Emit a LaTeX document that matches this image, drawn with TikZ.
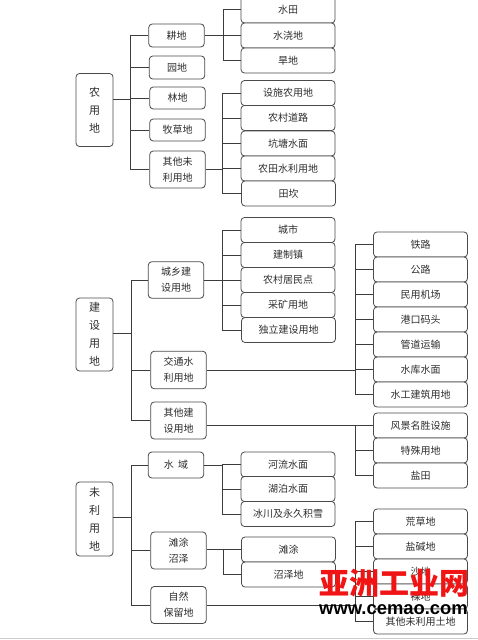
\documentclass[tikz,border=0pt]{standalone}
\usepackage{fontspec}
\setmainfont{Liberation Sans}
\newfontfamily\cjk{Noto Sans CJK SC}
\usetikzlibrary{positioning}
\definecolor{borde}{HTML}{4A4A4A}
\definecolor{linea}{HTML}{3C3C3C}
\definecolor{tinta}{HTML}{2E2E2E}
\definecolor{rojo}{HTML}{F01414}
\tikzset{
  rootbox/.style={draw=borde,thick,rounded corners=3.5pt,fill=white,align=center,
    minimum width=37pt,text=tinta,font=\cjk\fontsize{11}{18}\selectfont,inner sep=0pt},
  midbox/.style={draw=borde,thick,rounded corners=3.5pt,fill=white,align=center,
    minimum width=55.5pt,text=tinta,font=\cjk\fontsize{10}{16}\selectfont,inner sep=0pt},
  leafbox/.style={draw=borde,thick,rounded corners=3.5pt,fill=white,align=center,
    minimum width=94pt,minimum height=25pt,text=tinta,font=\cjk\fontsize{10}{12}\selectfont,inner sep=0pt},
  link/.style={linea,thick},
  marca/.style={inner sep=0pt,text=rojo,font=\cjk\bfseries\fontsize{30}{30}\selectfont},
  marcaweb/.style={inner sep=0pt,text=black,font=\bfseries\fontsize{18.4}{20}\selectfont}
}
\begin{document}
\begin{tikzpicture}[x=1pt,y=-1pt]
\clip (0,0) rectangle (478,640);
\fill[white] (0,0) rectangle (478,640);
% trunks
\coordinate (t1) at (130,99);
\coordinate (t2) at (223,35.5);
\coordinate (t3) at (222,169.5);
\coordinate (t4) at (131.5,333.5);
\coordinate (t5) at (222.5,280);
\coordinate (t6) at (355,370);
\coordinate (t7) at (355,425);
\coordinate (t8) at (131.5,517.5);
\coordinate (t9) at (222.5,465);
\coordinate (t10) at (223,549.5);
\coordinate (t11) at (355,605);
% first group
\node[rootbox,minimum height=73pt] (nong) at (94.5,110) {农\\用\\地};
\node[midbox,minimum height=23pt] (gengdi) at (176.5,35.5) {耕地};
\node[midbox,minimum height=23pt] (yuandi) at (177,67.5) {园地};
\node[midbox,minimum height=22pt] (lindi) at (177.5,98) {林地};
\node[midbox,minimum height=22pt] (mucao) at (177.5,130) {牧草地};
\node[midbox,minimum height=37pt] (qitawei) at (177.5,169.5) {其他未\\利用地};
\node[leafbox,minimum height=27pt] (shuitian) at (288,9.5) {水田};
\node[leafbox] (shuijiao) at (288,35.5) {水浇地};
\node[leafbox] (handi) at (288,60.5) {旱地};
\node[leafbox] (sheshi) at (288,93) {设施农用地};
\node[leafbox] (daolu) at (288,118) {农村道路};
\node[leafbox] (kengtang) at (288,143.5) {坑塘水面};
\node[leafbox] (shuili) at (288,168.5) {农田水利用地};
\node[leafbox] (tiankan) at (288.5,193.5) {田坎};
% second group
\node[rootbox,minimum height=73pt] (jianshe) at (94.5,334.5) {建\\设\\用\\地};
\node[midbox,minimum height=36.5pt] (chengxiang) at (176,280) {城乡建\\设用地};
\node[midbox,minimum height=37.5pt] (jiaotong) at (178.5,370) {交通水\\利用地};
\node[midbox,minimum height=37pt] (qitajian) at (178.5,420.5) {其他建\\设用地};
\node[leafbox] (chengshi) at (288,230) {城市};
\node[leafbox] (jianzhi) at (288,255) {建制镇};
\node[leafbox] (juminpoint) at (288,280) {农村居民点};
\node[leafbox] (caikuang) at (288,305) {采矿用地};
\node[leafbox] (duli) at (288.5,330) {独立建设用地};
\node[leafbox] (tielu) at (420.5,244.5) {铁路};
\node[leafbox] (gonglu) at (420.5,269.5) {公路};
\node[leafbox] (jichang) at (420.5,294.5) {民用机场};
\node[leafbox] (gangkou) at (420.5,319.5) {港口码头};
\node[leafbox] (guandao) at (420.5,344.5) {管道运输};
\node[leafbox] (shuiku) at (420.5,369.5) {水库水面};
\node[leafbox] (shuigong) at (420.5,394.5) {水工建筑用地};
\node[leafbox] (fengjing) at (420.5,425.5) {风景名胜设施};
\node[leafbox] (teshu) at (420.5,450.5) {特殊用地};
\node[leafbox] (yantian) at (420.5,475.5) {盐田};
% third group
\node[rootbox,minimum height=74pt] (weili) at (94.5,519) {未\\利\\用\\地};
\node[midbox,minimum height=26pt] (shuiyu) at (176,465) {水\ \ 域};
\node[midbox,minimum height=37pt] (tantu) at (178.5,550.5) {滩涂\\沼泽};
\node[midbox,minimum height=37pt] (ziran) at (178.5,605) {自然\\保留地};
\node[leafbox] (heliu) at (288,464.5) {河流水面};
\node[leafbox] (hubo) at (288,489) {湖泊水面};
\node[leafbox] (bingchuan) at (288,514) {冰川及永久积雪};
\node[leafbox] (tantuleaf) at (288.5,549.5) {滩涂};
\node[leafbox] (zhaoze) at (288.5,574.5) {沼泽地};
\node[leafbox] (huangcao) at (420.5,521.5) {荒草地};
\node[leafbox] (yanjian) at (420.5,546.5) {盐碱地};
\node[leafbox] (shadi) at (420.5,571.5) {沙地};
\node[leafbox] (luodi) at (420.5,596.5) {裸地};
\node[leafbox] (qitatu) at (420.5,621.5) {其他未利用土地};
% connectors
\draw[link] (nong.east|-t1)--(t1);
\foreach \n in {gengdi,yuandi,lindi,mucao,qitawei} \draw[link] (\n.west)-|(t1);
\draw[link] (gengdi)--(shuijiao);
\foreach \n in {shuitian,handi} \draw[link] (\n.west)-|(t2);
\draw[link] (qitawei.east)--(t3);
\foreach \n in {sheshi,daolu,kengtang,shuili,tiankan} \draw[link] (\n.west)-|(t3);
\draw[link] (jianshe.east|-t4)--(t4);
\foreach \n in {chengxiang,jiaotong,qitajian} \draw[link] (\n.west)-|(t4);
\draw[link] (chengxiang.east)--(t5);
\foreach \n in {chengshi,jianzhi,juminpoint,caikuang,duli} \draw[link] (\n.west)-|(t5);
\draw[link] (jiaotong.east)--(t6);
\foreach \n in {tielu,gonglu,jichang,gangkou,guandao,shuiku,shuigong} \draw[link] (\n.west)-|(t6);
\draw[link] (qitajian.east|-t7)--(t7);
\foreach \n in {fengjing,teshu,yantian} \draw[link] (\n.west)-|(t7);
\draw[link] (weili.east|-t8)--(t8);
\foreach \n in {shuiyu,tantu,ziran} \draw[link] (\n.west)-|(t8);
\draw[link] (shuiyu.east)--(t9);
\foreach \n in {heliu,hubo,bingchuan} \draw[link] (\n.west)-|(t9);
\draw[link] (tantu.east|-t10)--(t10);
\foreach \n in {tantuleaf,zhaoze} \draw[link] (\n.west)-|(t10);
\draw[link] (ziran.east)--(t11);
\foreach \n in {huangcao,yanjian,shadi,luodi,qitatu} \draw[link] (\n.west)-|(t11);
% site mark
\node[marca] (marcared) at (394,583) {亚洲工业网};
\node[marcaweb] (marcaurl) at (393.5,609.5) {www.cemao.com};
\draw[black!20,thick] (0,638.5)--(478,638.5);
\end{tikzpicture}
\end{document}
